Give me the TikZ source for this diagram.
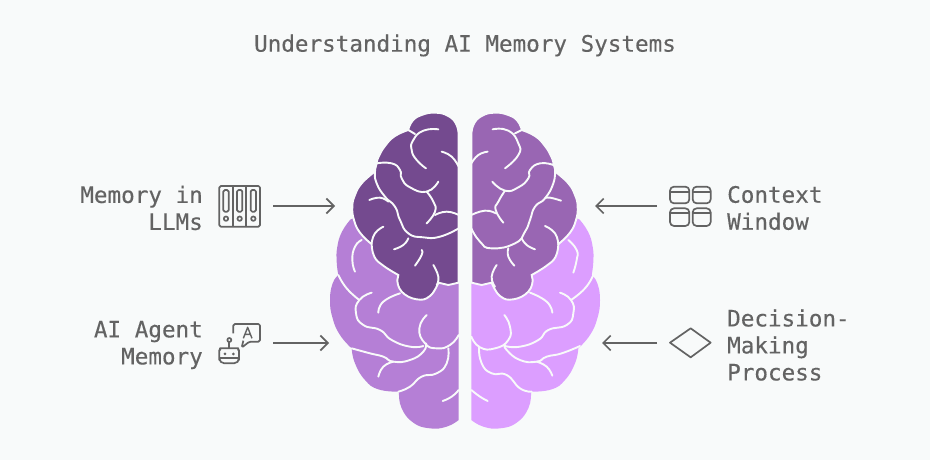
\documentclass[tikz,border=0pt]{standalone}
\usepackage{fontspec}
\setmainfont{DejaVu Sans Mono}[FakeBold=0.25]
\usetikzlibrary{arrows.meta}
\definecolor{pagebg}{HTML}{F8FAFA}
\definecolor{inkgray}{HTML}{636363}
\definecolor{darkL}{HTML}{744A8F}
\definecolor{darkR}{HTML}{9966B3}
\definecolor{lightL}{HTML}{B57FD6}
\definecolor{lightR}{HTML}{DC9EFF}
\tikzset{
  fold/.style={draw=pagebg,line width=1.9pt,line cap=round,line join=round},
  label/.style={font=\fontsize{22.6}{27}\selectfont,text=inkgray,inner sep=0pt},
  lblL/.style={label,align=right,anchor=east},
  lblR/.style={label,align=left,anchor=west},
  conn/.style={draw=inkgray,line width=1.7pt,-{Straight Barb[length=7.5pt,width=15pt,line width=1.7pt]}},
  icon/.style={draw=inkgray,line width=1.7pt,line join=round}
}
\newcommand\DarkLobe[1]{\filldraw[#1,draw=pagebg,line width=1.9pt]
  plot[smooth,tension=.8] coordinates {(416,110)(410,75)(385,48)(345,38)(305,45)(278,62)(265,88)}
  -- plot[smooth,tension=.8] coordinates {(265,90)(225,108)(195,138)(175,172)(170,190)}
  -- plot[smooth,tension=.8] coordinates {(162,217)(125,250)(105,285)(97,320)(102,360)(120,398)(152,430)}
  -- plot[smooth,tension=.8] coordinates {(155,432)(163,470)(190,497)(235,525)}
  -- plot[smooth,tension=.8] coordinates {(232,540)(245,575)(290,598)(330,588)(355,548)}
  -- plot[smooth,tension=.8] coordinates {(385,555)(416,548)} -- cycle;}
\newcommand\LightLobe[1]{\fill[#1]
  (416,300) -- (250,300)
  -- plot[smooth,tension=.8] coordinates {(92,358)(66,395)(52,440)(50,485)(55,525)}
  -- plot[smooth,tension=.8] coordinates {(55,525)(38,550)(30,600)(38,655)(60,705)(95,745)}
  -- plot[smooth,tension=.8] coordinates {(95,745)(105,790)(135,840)(175,868)(235,875)}
  -- plot[smooth,tension=.8] coordinates {(237,880)(245,925)(280,968)(330,985)(380,980)(416,960)} -- cycle;}
\begin{document}
\begin{tikzpicture}[x=1pt,y=-1pt]
\useasboundingbox (0,0) rectangle (930,460);
\fill[pagebg] (0,0) rectangle (930,460);

\node[label,anchor=center] (title) at (465,45.5) {Understanding AI Memory Systems};

% ---------- left hemisphere
\begin{scope}[shift={(320,100)},x=0.33333pt,y=-0.33333pt]
  \LightLobe{lightL}
  \DarkLobe{darkL}
  \foreach \c in {
    {(355,88)(310,92)(280,120)(275,150)(290,180)(318,205)},
    {(265,90)(285,102)},
    {(365,155)(395,170)(416,200)},
    {(170,190)(215,190)(240,210)(245,235)(270,262)(320,275)(355,245)},
    {(320,275)(340,305)(345,335)(320,370)},
    {(345,345)(380,335)(416,345)},
    {(170,190)(165,215)(170,250)(195,290)(225,320)(240,360)(265,400)(310,412)(360,410)(416,385)},
    {(148,300)(180,293)(205,305)},
    {(190,380)(165,400)(155,430)},
    {(222,448)(250,435)(265,415)},
    {(285,497)(305,465)(305,450)},
    {(340,495)(355,530)(350,555)}}
    {\draw[fold] plot[smooth,tension=.9] coordinates \c;}
\end{scope}
\begin{scope}[shift={(320,260)},x=0.33333pt,y=-0.33333pt]
  \foreach \c in {
    {(105,35)(97,0)(105,-40)(125,-60)},
    {(55,45)(80,85)(118,120)},
    {(155,98)(118,120)(108,160)(130,195)(180,210)(215,240)(270,260)(310,258)},
    {(320,165)(298,205)(315,250)(350,265)(390,255)(416,225)},
    {(95,265)(150,280)(190,290)(220,305)(270,300)(310,275)(318,250)},
    {(175,350)(190,320)(220,305)},
    {(235,395)(270,380)(305,350)(350,340)(380,310)(385,265)},
    {(175,158)(190,125)(240,100)},
    {(368,423)(395,410)(416,390)}}
    {\draw[fold] plot[smooth,tension=.9] coordinates \c;}
\end{scope}

% ---------- right hemisphere
\begin{scope}[shift={(610,100)},x=-0.33333pt,y=-0.33333pt]
  \LightLobe{lightR}
  \DarkLobe{darkR}
\end{scope}
\begin{scope}[shift={(465,100)},x=0.33333pt,y=-0.33333pt]
  \foreach \c in {
    {(83,88)(130,92)(160,130)(160,165)(120,205)},
    {(150,100)(170,90)},
    {(19,190)(40,165)(68,155)},
    {(265,195)(225,190)(195,210)(190,235)(160,262)(120,272)(82,245)},
    {(120,272)(100,305)(92,330)(115,368)},
    {(270,210)(265,250)(240,295)(210,320)(195,360)(180,395)(150,430)(80,445)(45,425)(19,385)},
    {(19,345)(60,332)(92,340)},
    {(288,302)(255,293)(240,295)},
    {(240,378)(270,400)(280,435)},
    {(210,448)(185,435)(170,415)},
    {(148,497)(130,470)(130,445)},
    {(95,495)(80,530)(90,560)},
    {(310,420)(335,450)(335,480)(325,518)}}
    {\draw[fold] plot[smooth,tension=.9] coordinates \c;}
\end{scope}
\begin{scope}[shift={(465,260)},x=0.33333pt,y=-0.33333pt]
  \foreach \c in {
    {(385,45)(360,85)(318,120)},
    {(285,98)(318,120)(325,160)(305,195)(250,210)(220,240)(165,260)(120,258)},
    {(118,165)(135,200)(130,240)(90,265)(45,262)(19,230)},
    {(345,258)(290,280)(245,290)(215,305)(165,300)(125,270)(120,255)},
    {(262,347)(245,320)(215,305)},
    {(200,395)(165,385)(125,345)(80,340)(50,310)(42,262)},
    {(262,158)(245,125)(195,98)},
    {(19,390)(45,410)(68,423)}}
    {\draw[fold] plot[smooth,tension=.9] coordinates \c;}
\end{scope}

% ---------- labels
\node[lblL] (llm) at (203,208) {Memory in\\LLMs};
\node[lblL] (agent) at (203,345) {AI Agent\\Memory};
\node[lblR] (context) at (727,208) {Context\\Window};
\node[lblR] (decision) at (727,345) {Decision-\\Making\\Process};

% ---------- icon: binders
\begin{scope}[shift={(70,170)},x=0.33333pt,y=-0.33333pt]
  \draw[icon,rounded corners=1.5pt] (448,48) rectangle (570,170);
  \draw[icon] (489,48) -- (489,170) (529,48) -- (529,170);
  \foreach \x in {468,509,550}{
    \draw[icon,rounded corners=1.5pt] (\x-8,60) rectangle (\x+8,125);
    \draw[icon] (\x,146) circle (2.2pt);
  }
\end{scope}
% ---------- icon: robot and speech bubble
\begin{scope}[shift={(70,170)},x=0.33333pt,y=-0.33333pt]
  \draw[icon,rounded corners=1.5pt] (490,490) -- (490,462) -- (570,462) -- (570,515) -- (538,515) -- (515,533) -- (520,512);
  \draw[icon,line width=1.4pt] (520,505) -- (533,472) -- (546,505) (525,493) -- (541,493);
  \draw[icon] (478,510) circle (2pt);
  \draw[icon] (478,517) -- (478,535);
  \draw[icon,rounded corners=5pt] (448,580) -- (448,555) to[out=90,in=180] (465,535) -- (490,535) to[out=0,in=90] (507,555) -- (507,580) -- cycle;
  \draw[icon] (448,565) -- (507,565);
  \fill[inkgray] (465,552) circle (1.5pt) (490,552) circle (1.5pt);
\end{scope}
% ---------- icon: context grid
\begin{scope}[shift={(590,170)},x=0.33333pt,y=-0.33333pt]
  \foreach \x/\xx in {240/298,308/362}{
    \foreach \y/\yy in {50/100,115/168}{
      \draw[icon,rounded corners=4pt] (\x,\y) rectangle (\xx,\yy);
      \draw[icon] (\x,\y+15) -- (\xx,\y+15);
    }
  }
\end{scope}
% ---------- icon: diamond
\begin{scope}[shift={(590,170)},x=0.33333pt,y=-0.33333pt]
  \draw[icon] (240,518) -- (302,475) -- (362,518) -- (302,562) -- cycle;
\end{scope}

% ---------- connectors
\coordinate (a1s) at (273,206); \coordinate (a1e) at (335,206);
\coordinate (a2s) at (273,343); \coordinate (a2e) at (329,343);
\coordinate (a3s) at (657,206); \coordinate (a3e) at (595,206);
\coordinate (a4s) at (657,343); \coordinate (a4e) at (602,343);
\draw[conn] (a1s) -- (a1e);
\draw[conn] (a2s) -- (a2e);
\draw[conn] (a3s) -- (a3e);
\draw[conn] (a4s) -- (a4e);
\end{tikzpicture}
\end{document}
